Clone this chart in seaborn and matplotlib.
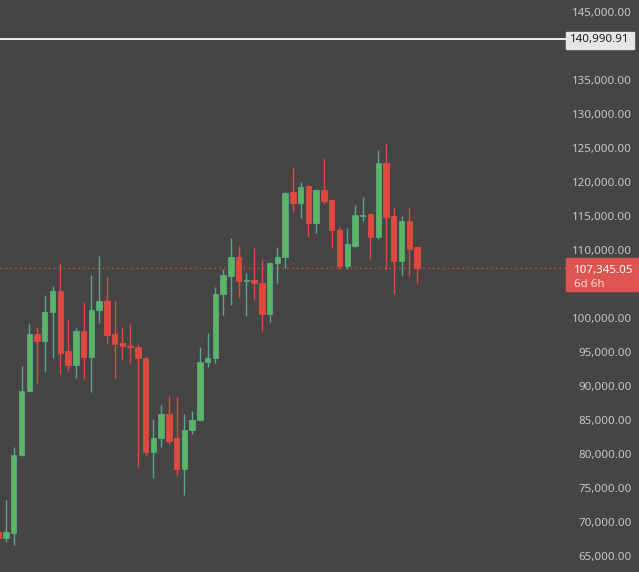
import matplotlib
matplotlib.use("Agg")
import matplotlib.pyplot as plt
import matplotlib.patches as mpatches
import seaborn as sns
import pandas as pd

# weekly candles
opens = [68530, 67650, 68400, 79853, 89265, 97647, 96618, 100882, 103971, 95147,
         93088, 98088, 94265, 101176, 102500, 97647, 96324, 95882, 95700, 94118,
         80294, 82353, 85882, 82353, 77794, 83529, 85000, 93529, 94118, 103529,
         106176, 108971, 105441, 105588, 105147, 100588, 108088, 108971, 118529, 116912,
         119412, 113971, 118824, 117353, 112941, 107647, 110588, 115000, 115294, 111912,
         122794, 115000, 108382, 114265, 110441]
highs = [69000, 73235, 81029, 92941, 99118, 98676, 103382, 104706, 108088, 99706,
         98529, 102353, 106324, 109118, 106029, 102500, 98676, 99265, 96176, 94300,
         85147, 87206, 88529, 88382, 85882, 86324, 95735, 97794, 104559, 107206,
         111765, 110588, 106618, 110294, 108676, 108200, 110441, 118600, 122059, 120000,
         119600, 119000, 123529, 117500, 113382, 113235, 116618, 117794, 115400, 124706,
         125588, 116176, 115000, 116176, 110500]
lows = [67300, 67059, 66618, 79700, 89100, 90441, 92059, 94118, 91765, 92206,
        91176, 91029, 89118, 99265, 96176, 91176, 93971, 93382, 78088, 79706,
        76471, 81029, 81471, 76765, 73971, 82941, 84800, 92794, 93382, 100441,
        101912, 102941, 100294, 102647, 98088, 99412, 105147, 107353, 115588, 114706,
        111912, 112500, 116765, 110294, 107206, 107206, 110400, 114265, 108529, 111618,
        107206, 103529, 106324, 106176, 105147]
closes = [67650, 68500, 79853, 89265, 97647, 96618, 100882, 103971, 94853, 93088,
          98088, 94265, 101176, 102500, 97500, 96176, 95882, 95700, 94118, 80294,
          82353, 85882, 81912, 77794, 83529, 85000, 93529, 94118, 103529, 106324,
          108971, 105441, 105600, 105147, 100588, 108088, 108971, 118382, 116912, 119265,
          113971, 118824, 117206, 112941, 107647, 110882, 115147, 115150, 111912, 122794,
          114853, 108382, 114265, 110147, 107345.05]

last_price = 107345.05
marked_price = 140990.91
countdown = "6d 6h"
y_ticks = list(range(65000, 145001, 5000))
hidden_ticks = [105000, 140000]  # covered by the price boxes

bg = "#474444"
up_body = "#5cb660"
up_wick = "#56a894"
down_col = "#e0493f"

sns.set_theme(style="dark", rc={"axes.facecolor": bg, "figure.facecolor": bg,
                                 "axes.edgecolor": bg})
plt.rcParams["font.family"] = ["Noto Sans", "DejaVu Sans"]

df = pd.DataFrame({"open": opens, "high": highs, "low": lows, "close": closes})
df["idx"] = range(len(df))
df["up"] = df["close"] >= df["open"]

fig = plt.figure(figsize=(6.39, 5.72), dpi=100)
ax = fig.add_axes([0, 0, 548 / 639, 1])

up = df[df["up"]]
dn = df[~df["up"]]
ax.vlines(up["idx"], up["low"], up["high"], color=up_wick, lw=1.0, zorder=2)
ax.vlines(dn["idx"], dn["low"], dn["high"], color=down_col, lw=1.0, zorder=2)
ax.bar(up["idx"], (up["close"] - up["open"]).clip(lower=60), bottom=up["open"],
       width=0.7, color=up_body, edgecolor=up_wick, linewidth=0.6, zorder=3)
ax.bar(dn["idx"], (dn["close"] - dn["open"]), bottom=dn["open"],
       width=0.7, color=down_col, edgecolor=down_col, linewidth=0.6, zorder=3)

ax.set_xlim(0.226, 70.89)
ax.set_ylim(62647, 146765)

ytr = ax.get_yaxis_transform()
x_end = 566 / 548
ax.plot([0, x_end], [last_price, last_price], transform=ytr, clip_on=False,
        color=down_col, lw=1.0, ls=(0, (1, 2.5)), zorder=1)
ax.plot([0, x_end], [marked_price, marked_price], transform=ytr, clip_on=False,
        color="#ececec", lw=1.4, zorder=1)

ax.yaxis.tick_right()
ax.set_yticks(y_ticks)
ax.set_yticklabels(["" if v in hidden_ticks else f"{v:,.2f}" for v in y_ticks])
ax.tick_params(axis="y", length=0, pad=60.5, labelsize=8.3, colors="#c8c8c8")
for lbl in ax.get_yticklabels():
    lbl.set_horizontalalignment("right")
ax.set_xticks([])
for s in ax.spines.values():
    s.set_visible(False)

# label box for the marked level
ax.add_patch(mpatches.Rectangle((x_end, 139559), 68 / 548, 142059 - 139559,
                                transform=ytr, clip_on=False, color="#e6e6e6", zorder=6))
ax.text(600 / 548, marked_price, f"{marked_price:,.2f}", transform=ytr,
        ha="center", va="center", fontsize=8.3, color="#1e1e1e", zorder=7, clip_on=False)

# last price box
ax.add_patch(mpatches.Rectangle((x_end, 103971), 80 / 548, 108824 - 103971,
                                transform=ytr, clip_on=False, color="#dd5450", zorder=6))
ax.text(574 / 548, 106912, f"{last_price:,.2f}", transform=ytr, ha="left", va="center",
        fontsize=8.3, fontweight="bold", color="white", zorder=7, clip_on=False)
ax.text(574 / 548, 105000, countdown, transform=ytr, ha="left", va="center",
        fontsize=8.3, color="#f6d6d3", zorder=7, clip_on=False)

fig.savefig("out.png", dpi=100, facecolor=bg)
